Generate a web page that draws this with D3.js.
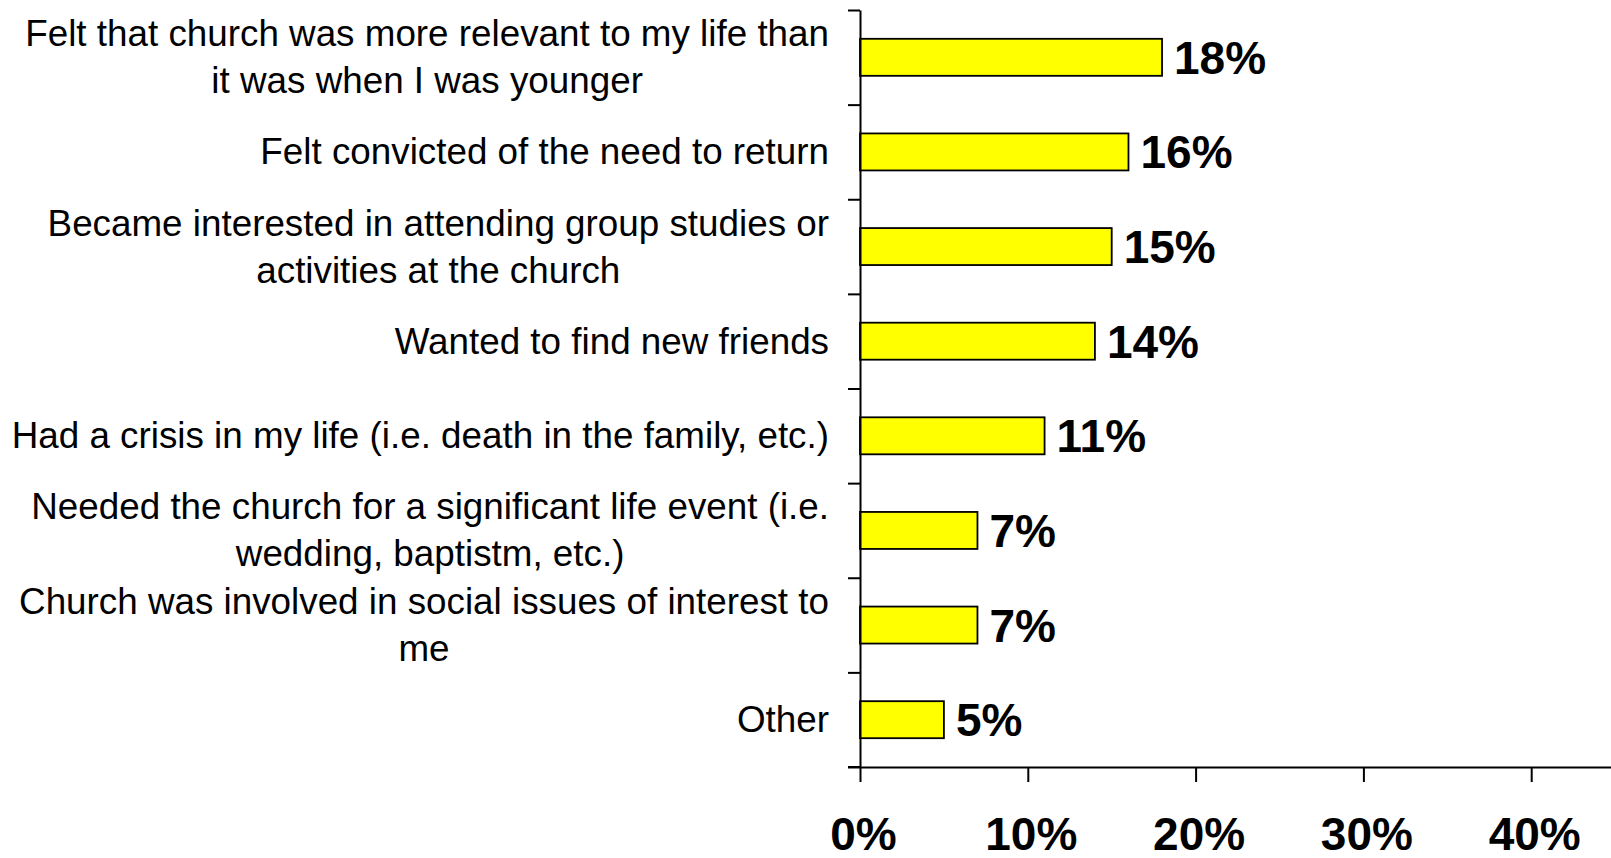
<!DOCTYPE html>
<html>
<head>
<meta charset="utf-8">
<script src="https://cdn.jsdelivr.net/npm/d3@7"></script>
<style>
  html, body { margin: 0; padding: 0; background: #fff; }
  svg { display: block; }
  text { font-family: "Liberation Sans", Arial, sans-serif; fill: #000; }
</style>
</head>
<body>
<svg id="chart" width="1611" height="858"></svg>
<script>
const categories = [
  "Felt that church was more relevant to my life than\nit was when I was younger",
  "Felt convicted of the need to return",
  "Became interested in attending group studies or\nactivities at the church",
  "Wanted to find new friends",
  "Had a crisis in my life (i.e. death in the family, etc.)",
  "Needed the church for a significant life event (i.e.\nwedding, baptistm, etc.)",
  "Church was involved in social issues of interest to\nme",
  "Other"
];
const values = [0.18, 0.16, 0.15, 0.14, 0.11, 0.07, 0.07, 0.05];
const xTicks = [0, 0.1, 0.2, 0.3, 0.4];

(function () {
const svg = d3.select("#chart");
const plotLeft = 860, plotTop = 10, plotBottom = 767;

const x = d3.scaleLinear().domain([0, 0.5]).range([plotLeft, plotLeft + 5 * 167.8]);
const y = d3.scaleBand().domain(categories).range([plotTop, plotBottom])
  .paddingInner(0.609).paddingOuter(0.3045);
const yb = d3.scaleLinear().domain([0, categories.length]).range([plotTop, plotBottom]);

// bars
svg.append("g").selectAll("rect").data(values).join("rect")
  .attr("x", x(0))
  .attr("y", (d, i) => y(categories[i]))
  .attr("width", d => x(d) - x(0))
  .attr("height", y.bandwidth())
  .attr("fill", "#FFFF00")
  .attr("stroke", "#000")
  .attr("stroke-width", 1.8);

// value labels
svg.append("g").selectAll("text").data(values).join("text")
  .attr("x", d => x(d) + 12)
  .attr("y", (d, i) => y(categories[i]) + y.bandwidth() / 2 + 16.5)
  .attr("font-size", 46)
  .attr("font-weight", "bold")
  .text(d => d3.format(".0%")(d));

// y axis (ticks at category boundaries)
const yAxis = d3.axisLeft(yb).ticks(categories.length).tickSize(12).tickSizeOuter(0).tickFormat("");
const gy = svg.append("g").attr("transform", `translate(${plotLeft},0)`).call(yAxis);
gy.select(".domain").attr("stroke", "#000").attr("stroke-width", 2);
gy.selectAll(".tick line").attr("stroke", "#000").attr("stroke-width", 2);

// x axis
const xAxis = d3.axisBottom(x).tickValues(xTicks).tickSize(15).tickSizeOuter(0).tickFormat(d3.format(".0%"));
const gx = svg.append("g").attr("transform", `translate(0,${plotBottom})`).call(xAxis);
gx.select(".domain").attr("stroke", "#000").attr("stroke-width", 2);
gx.selectAll(".tick line").attr("stroke", "#000").attr("stroke-width", 2);
gx.selectAll(".tick text")
  .attr("font-family", "Liberation Sans, Arial, sans-serif")
  .attr("font-size", 46)
  .attr("font-weight", "bold")
  .attr("fill", "#000")
  .attr("y", 0).attr("dy", 0)
  .attr("transform", "translate(3,83)");
svg.append("line")
  .attr("x1", plotLeft - 12).attr("x2", plotLeft)
  .attr("y1", plotBottom).attr("y2", plotBottom)
  .attr("stroke", "#000").attr("stroke-width", 2);

// category labels: block right-aligned at 829, lines centred within block
const lineH = 47;
const labelRight = 829;
const lab = svg.append("g").selectAll("text").data(categories).join("text")
  .attr("text-anchor", "middle")
  .attr("font-size", 36.8);
lab.each(function (d) {
  const lines = d.split("\n");
  const t = d3.select(this);
  const cy = y(d) + y.bandwidth() / 2;
  const spans = lines.map((ln, k) => t.append("tspan")
      .attr("y", cy + 12.5 + (k - (lines.length - 1) / 2) * lineH)
      .text(ln));
  const maxW = d3.max(spans, s => s.node().getComputedTextLength());
  spans.forEach(s => s.attr("x", labelRight - maxW / 2));
});
})();
</script>
</body>
</html>
